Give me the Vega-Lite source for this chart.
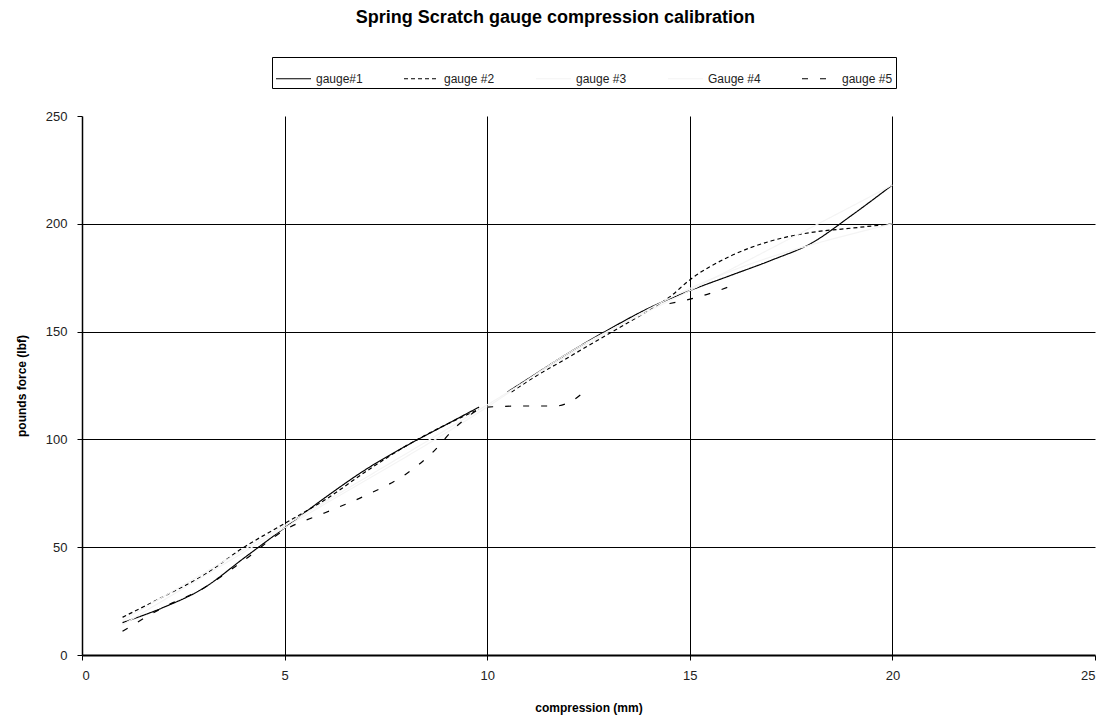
{
  "$schema": "https://vega.github.io/schema/vega-lite/v6.json",
  "width": 1013,
  "height": 539,
  "autosize": {"type": "none"},
  "padding": {"left": 82, "top": 116, "right": 11, "bottom": 63},
  "background": "white",
  "title": {
    "text": "Spring Scratch gauge compression calibration",
    "font": "Liberation Sans",
    "fontSize": 18,
    "fontWeight": "bold",
    "color": "black",
    "anchor": "middle",
    "frame": "bounds",
    "offset": 30
  },
  "config": {
    "view": {"stroke": null},
    "axis": {
      "labelFont": "Liberation Sans",
      "labelFontSize": 13,
      "labelColor": "#222",
      "titleFont": "Liberation Sans",
      "titleFontSize": 12,
      "titleFontWeight": "bold",
      "titleColor": "black",
      "domainColor": "black",
      "tickColor": "black",
      "tickSize": 5,
      "gridColor": "black",
      "gridWidth": 1
    }
  },
  "data": {
    "values": [
      {"g": "gauge#1", "x": 1, "y": 15},
      {"g": "gauge#1", "x": 2, "y": 22},
      {"g": "gauge#1", "x": 3, "y": 31},
      {"g": "gauge#1", "x": 4, "y": 45},
      {"g": "gauge#1", "x": 5, "y": 59},
      {"g": "gauge#1", "x": 6, "y": 73},
      {"g": "gauge#1", "x": 7, "y": 86},
      {"g": "gauge#1", "x": 8, "y": 97},
      {"g": "gauge#1", "x": 9, "y": 107},
      {"g": "gauge#1", "x": 9.8, "y": 115},
      {"g": "gauge#1", "x": 10.1, "y": null},
      {"g": "gauge#1", "x": 10.5, "y": 122},
      {"g": "gauge#1", "x": 11, "y": 128},
      {"g": "gauge#1", "x": 12, "y": 140},
      {"g": "gauge#1", "x": 13, "y": 151},
      {"g": "gauge#1", "x": 14, "y": 161},
      {"g": "gauge#1", "x": 15, "y": 169},
      {"g": "gauge#1", "x": 16, "y": 176},
      {"g": "gauge#1", "x": 17, "y": 183},
      {"g": "gauge#1", "x": 18, "y": 191},
      {"g": "gauge#1", "x": 19, "y": 204},
      {"g": "gauge#1", "x": 20, "y": 218},

      {"g": "gauge #2", "x": 1, "y": 17.5},
      {"g": "gauge #2", "x": 2, "y": 27},
      {"g": "gauge #2", "x": 3, "y": 37},
      {"g": "gauge #2", "x": 4, "y": 50},
      {"g": "gauge #2", "x": 5, "y": 61},
      {"g": "gauge #2", "x": 6, "y": 72},
      {"g": "gauge #2", "x": 7, "y": 85},
      {"g": "gauge #2", "x": 8, "y": 97},
      {"g": "gauge #2", "x": 9, "y": 107},
      {"g": "gauge #2", "x": 9.8, "y": 114},
      {"g": "gauge #2", "x": 10.2, "y": null},
      {"g": "gauge #2", "x": 10.6, "y": 122},
      {"g": "gauge #2", "x": 11, "y": 127},
      {"g": "gauge #2", "x": 12, "y": 138},
      {"g": "gauge #2", "x": 13, "y": 149},
      {"g": "gauge #2", "x": 14, "y": 160},
      {"g": "gauge #2", "x": 14.5, "y": 166},
      {"g": "gauge #2", "x": 15, "y": 174},
      {"g": "gauge #2", "x": 16, "y": 185},
      {"g": "gauge #2", "x": 17, "y": 192},
      {"g": "gauge #2", "x": 18, "y": 196},
      {"g": "gauge #2", "x": 19, "y": 198},
      {"g": "gauge #2", "x": 20, "y": 200},

      {"g": "gauge #3", "x": 1, "y": 14},
      {"g": "gauge #3", "x": 5, "y": 59},
      {"g": "gauge #3", "x": 10, "y": 115},
      {"g": "gauge #3", "x": 12, "y": 140},
      {"g": "gauge #3", "x": 15, "y": 169},
      {"g": "gauge #3", "x": 20, "y": 218},

      {"g": "Gauge #4", "x": 1, "y": 16},
      {"g": "Gauge #4", "x": 5, "y": 60},
      {"g": "Gauge #4", "x": 10, "y": 116},
      {"g": "Gauge #4", "x": 12, "y": 139},
      {"g": "Gauge #4", "x": 15, "y": 170},
      {"g": "Gauge #4", "x": 20, "y": 200},

      {"g": "gauge #5", "x": 1, "y": 11},
      {"g": "gauge #5", "x": 2, "y": 22},
      {"g": "gauge #5", "x": 3, "y": 31},
      {"g": "gauge #5", "x": 4, "y": 44},
      {"g": "gauge #5", "x": 5, "y": 58},
      {"g": "gauge #5", "x": 6, "y": 66},
      {"g": "gauge #5", "x": 7, "y": 74},
      {"g": "gauge #5", "x": 8, "y": 84},
      {"g": "gauge #5", "x": 8.6, "y": 93},
      {"g": "gauge #5", "x": 9.3, "y": 107},
      {"g": "gauge #5", "x": 10, "y": 115},
      {"g": "gauge #5", "x": 11, "y": 115.5},
      {"g": "gauge #5", "x": 11.7, "y": 115.5},
      {"g": "gauge #5", "x": 12.1, "y": 118},
      {"g": "gauge #5", "x": 12.5, "y": 124},
      {"g": "gauge #5", "x": 13.5, "y": null},
      {"g": "gauge #5", "x": 14.5, "y": 163},
      {"g": "gauge #5", "x": 15.2, "y": 166},
      {"g": "gauge #5", "x": 16, "y": 171}
    ]
  },
  "mark": {"type": "line", "strokeWidth": 1.2, "interpolate": "monotone", "invalid": "break-paths-filter-domains"},
  "encoding": {
    "x": {
      "field": "x",
      "type": "quantitative",
      "scale": {"domain": [0, 25], "nice": false},
      "axis": {
        "title": "compression (mm)",
        "values": [0, 5, 10, 15, 20, 25],
        "grid": true,
        "gridOpacity": {"condition": {"test": "datum.value == 0 || datum.value == 25", "value": 0}, "value": 1},
        "domainWidth": 2,
        "labelPadding": 9,
        "titlePadding": 20
      }
    },
    "y": {
      "field": "y",
      "type": "quantitative",
      "scale": {"domain": [0, 250], "nice": false},
      "axis": {
        "title": "pounds force (lbf)",
        "values": [0, 50, 100, 150, 200, 250],
        "grid": true,
        "gridOpacity": {"condition": {"test": "datum.value == 0 || datum.value == 250", "value": 0}, "value": 1},
        "domainWidth": 1.5,
        "labelPadding": 10,
        "titlePadding": 17
      }
    },
    "color": {
      "field": "g",
      "type": "nominal",
      "scale": {
        "domain": ["gauge#1", "gauge #2", "gauge #3", "Gauge #4", "gauge #5"],
        "range": ["black", "black", "#f4f4f4", "#f4f4f4", "black"]
      },
      "legend": {
        "title": null,
        "orient": "none",
        "legendX": 190,
        "legendY": -59,
        "direction": "horizontal",
        "strokeColor": "black",
        "fillColor": "white",
        "padding": 3,
        "symbolType": "stroke",
        "symbolSize": 1225,
        "symbolStrokeWidth": 1.2,
        "labelFont": "Liberation Sans",
        "labelFontSize": 12,
        "labelColor": "#222",
        "labelOffset": 4,
        "columnPadding": 38
      }
    },
    "strokeDash": {
      "field": "g",
      "type": "nominal",
      "scale": {
        "domain": ["gauge#1", "gauge #2", "gauge #3", "Gauge #4", "gauge #5"],
        "range": [[1, 0], [4, 3], [1, 0], [1, 0], [6, 12]]
      },
      "legend": {
        "title": null,
        "orient": "none",
        "legendX": 190,
        "legendY": -59,
        "direction": "horizontal",
        "strokeColor": "black",
        "fillColor": "white",
        "padding": 3,
        "symbolType": "stroke",
        "symbolSize": 1225,
        "symbolStrokeWidth": 1.2,
        "labelFont": "Liberation Sans",
        "labelFontSize": 12,
        "labelColor": "#222",
        "labelOffset": 4,
        "columnPadding": 38
      }
    }
  }
}
